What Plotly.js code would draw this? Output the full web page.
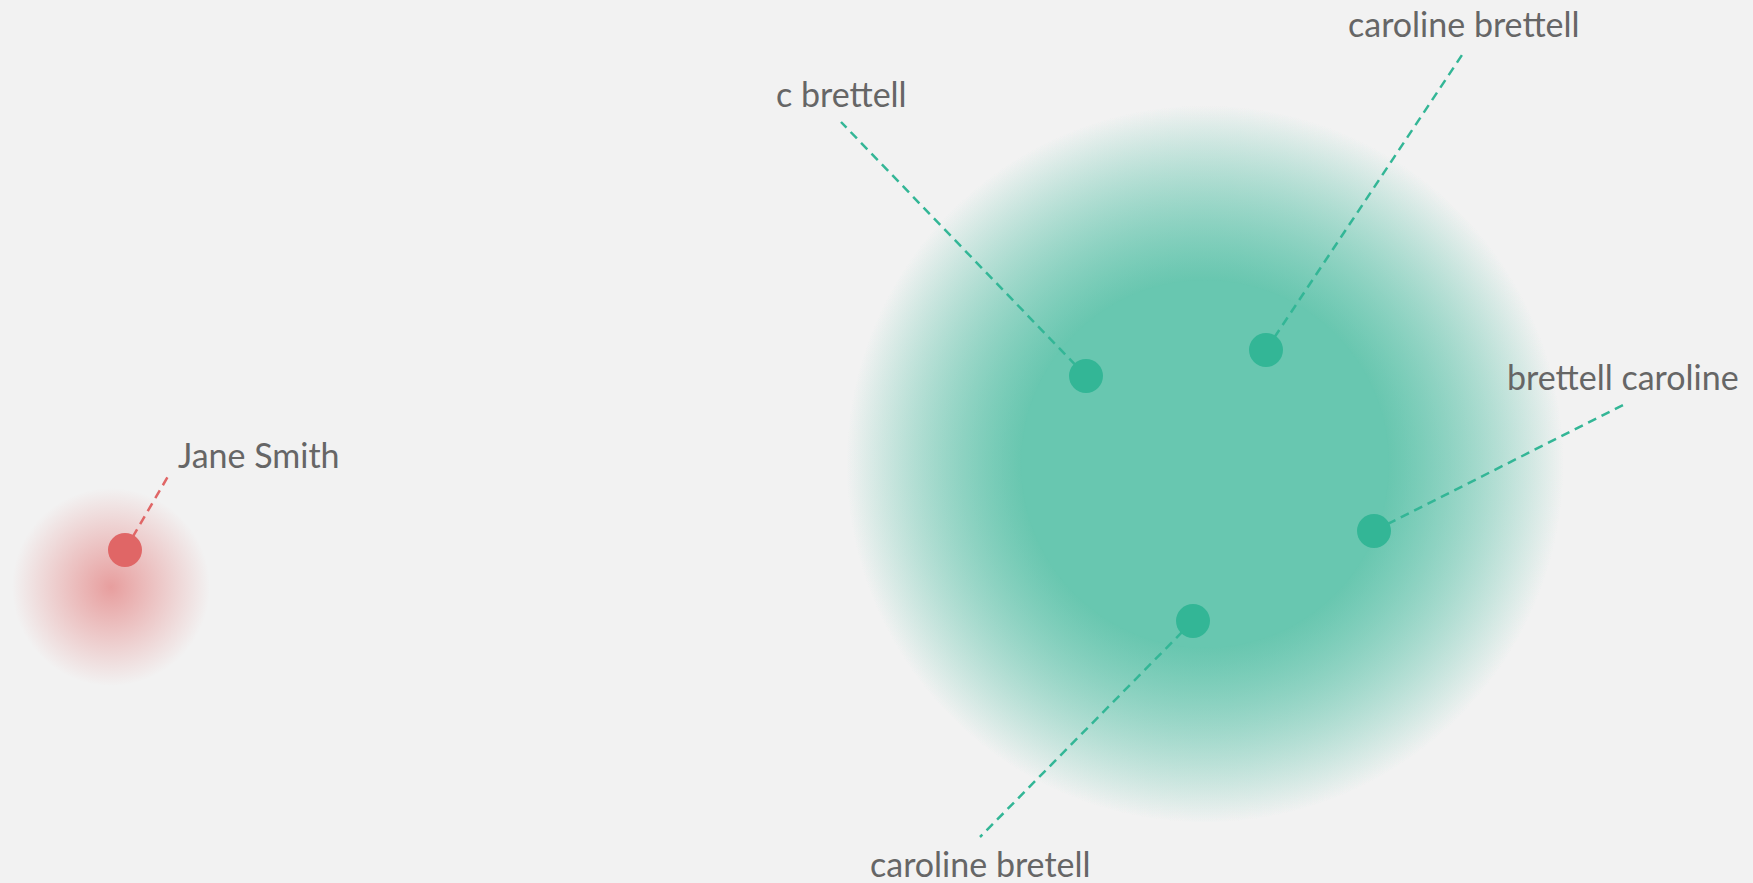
<!DOCTYPE html>
<html>
<head>
<meta charset="utf-8">
<script src="https://cdn.plot.ly/plotly-3.0.1.min.js"></script>
<style>
html,body{margin:0;padding:0;background:#f2f2f2;}
#chart{width:1753px;height:883px;}
</style>
</head>
<body>
<div id="chart"></div>
<script>
// ---- data ----
var names  = ['Jane Smith', 'c brettell', 'caroline brettell', 'brettell caroline', 'caroline bretell'];
var groups = ['jane', 'caroline', 'caroline', 'caroline', 'caroline'];
var pointX = [125, 1086, 1266, 1374, 1193];
var pointY = [550, 376, 350, 531, 621];
// annotation note offsets (leader line end relative to point)
var noteDx = [45, -245, 198, 249, -213];
var noteDy = [-77, -254, -298, -126, 216];

var clusterNames  = ['jane', 'caroline'];
var clusterX      = [111, 1205];
var clusterY      = [587, 464];
var clusterInner  = [0, 184];
var clusterOuter  = [99, 359];

// ---- style ----
var BG = [242, 242, 242];
var groupColor = {jane: [224, 102, 102], caroline: [51, 182, 150]};
var glowAlpha  = {jane: 0.6, caroline: 0.72};
var noteAlign  = ['left', 'center', 'center', 'center', 'center'];
var FONT = 'Lato, "Open Sans", sans-serif';
var W = 1753, H = 883;

function rgba(c, a) { return 'rgba(' + c[0] + ',' + c[1] + ',' + c[2] + ',' + a + ')'; }
function clamp(v) { return Math.max(0, Math.min(255, Math.round(v))); }

var traces = [];

function glowMarker(ci, size, color, centerColor) {
  var m = {size: size, color: color, line: {width: 0}};
  if (centerColor) m.gradient = {type: 'radial', color: centerColor};
  return {
    type: 'scatter', mode: 'markers', x: [clusterX[ci]], y: [clusterY[ci]],
    hoverinfo: 'skip', showlegend: false, marker: m
  };
}

// glow: radial gradient fade (plotly radial gradient: gradient.color at centre, marker.color at rim)
clusterNames.forEach(function (g, ci) {
  var col = groupColor[g], A = glowAlpha[g];
  var ri = clusterInner[ci], ro = clusterOuter[ci];
  if (ri <= 0) {
    traces.push(glowMarker(ci, 2 * ro, rgba(col, 0), rgba(col, A)));
  } else {
    // two stacked gradient discs so the fade meets the core opacity at the inner radius
    var si = 1 - ri / ro;
    var h = Math.min(1, (1 - Math.sqrt(1 - A)) / si);
    var core = [0, 1, 2].map(function (i) { return clamp(BG[i] + (col[i] - BG[i]) * A); });
    traces.push(glowMarker(ci, 2 * ro, rgba(col, 0), rgba(col, h)));
    traces.push(glowMarker(ci, 2 * ro, rgba(col, 0), rgba(col, h)));
    traces.push(glowMarker(ci, 2 * ri, rgba(core, 1), null));
  }
});

// leader lines + labels
var annotations = [];
names.forEach(function (n, i) {
  var c = groupColor[groups[i]];
  var ex = pointX[i] + noteDx[i], ey = pointY[i] + noteDy[i];
  traces.push({
    type: 'scatter', mode: 'lines', x: [pointX[i], ex], y: [pointY[i], ey],
    hoverinfo: 'skip', showlegend: false,
    line: {color: rgba(c, 1), width: 2.5, dash: '9px,6px'}
  });
  var above = noteDy[i] < 0;
  var ann = {
    x: ex, y: ey, xref: 'x', yref: 'y', text: n, showarrow: false,
    font: {family: FONT, size: 34, color: '#666666'},
    xanchor: noteAlign[i], yanchor: 'middle'
  };
  if (noteAlign[i] === 'left') { ann.xshift = 6; ann.yshift = 19; }
  else { ann.yshift = above ? 29 : -26; }
  annotations.push(ann);
});

// dots
var colorsDot = groups.map(function (g) { return rgba(groupColor[g], 1); });
traces.push({
  type: 'scatter', mode: 'markers', x: pointX, y: pointY, text: names,
  hoverinfo: 'text', showlegend: false,
  marker: {size: 34, color: colorsDot, line: {width: 0}}
});

var layout = {
  width: W, height: H,
  margin: {l: 0, r: 0, t: 0, b: 0},
  paper_bgcolor: '#f2f2f2', plot_bgcolor: '#f2f2f2',
  xaxis: {range: [0, W], visible: false, fixedrange: true},
  yaxis: {range: [H, 0], visible: false, fixedrange: true},
  annotations: annotations,
  showlegend: false
};

Plotly.newPlot('chart', traces, layout, {displayModeBar: false, staticPlot: true});
</script>
</body>
</html>
